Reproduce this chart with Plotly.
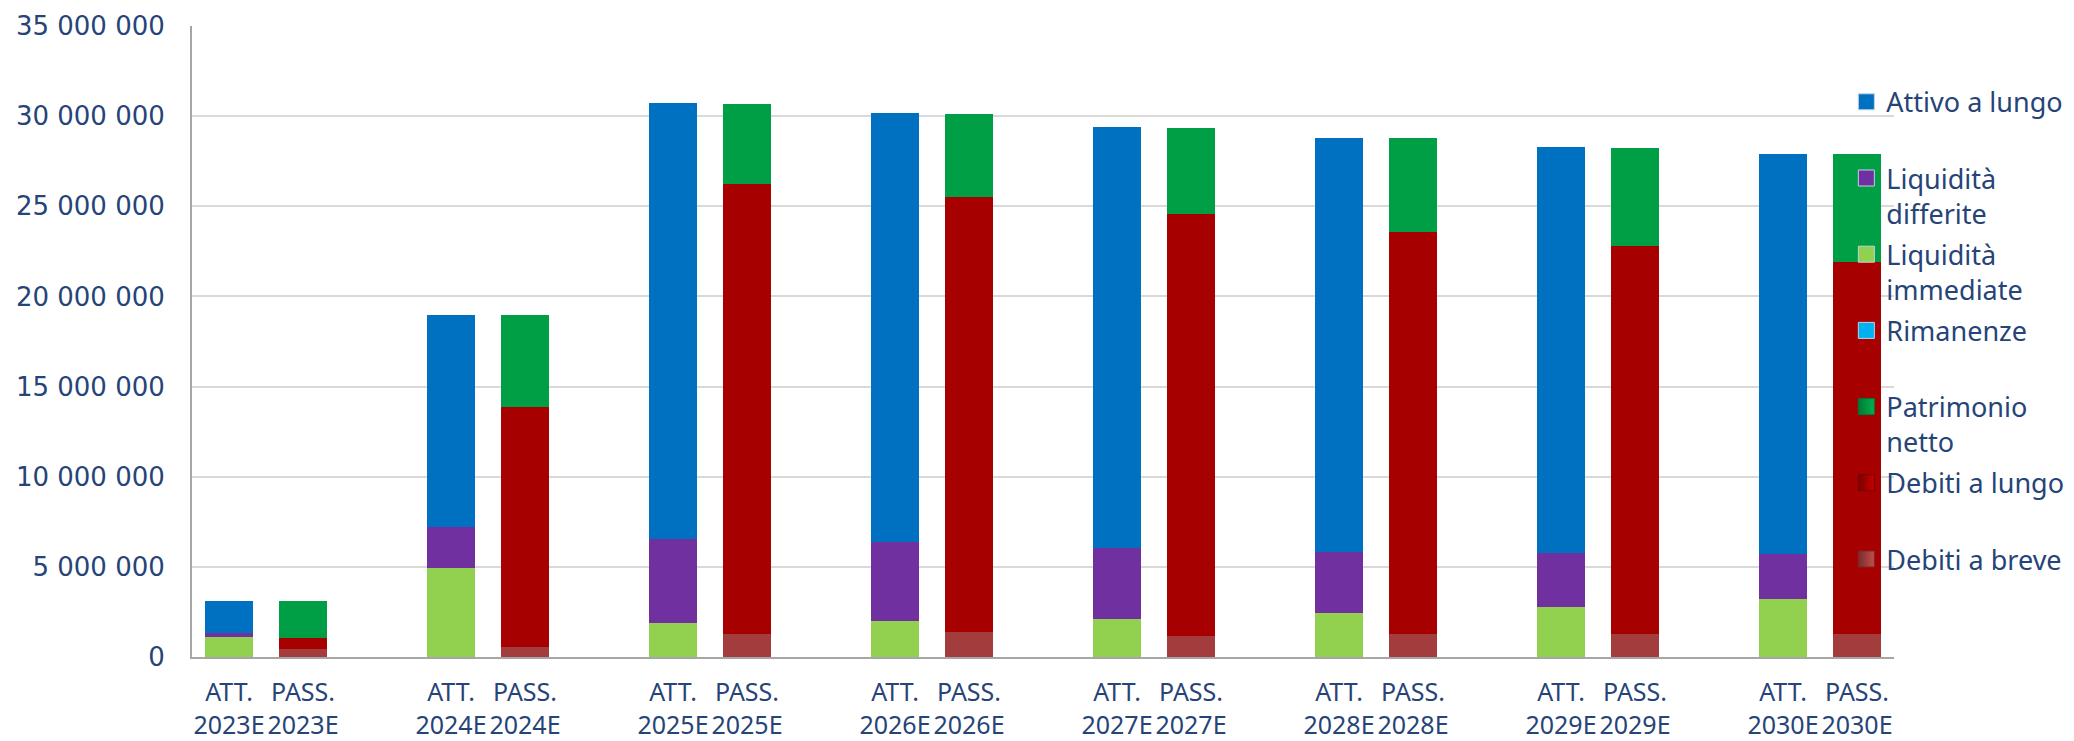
import plotly.graph_objects as go

# --- DATA ---
YEARS = ["2023E", "2024E", "2025E", "2026E", "2027E", "2028E", "2029E", "2030E"]

# attivo
liquidita_immediate = [1090000, 4960000, 1900000, 2000000, 2120000, 2420000, 2750000, 3210000]
liquidita_differite = [260000, 2260000, 4660000, 4400000, 3940000, 3430000, 3000000, 2500000]
rimanenze = [0, 0, 0, 0, 0, 0, 0, 0]
attivo_lungo = [1770000, 11750000, 24150000, 23750000, 23330000, 22960000, 22540000, 22190000]

# passivo
debiti_breve = [470000, 530000, 1250000, 1380000, 1190000, 1250000, 1250000, 1290000]
debiti_lungo = [570000, 13350000, 24960000, 24120000, 23360000, 22350000, 21540000, 20610000]
patrimonio_netto = [2080000, 5090000, 4480000, 4600000, 4800000, 5210000, 5460000, 6000000]

TEXT_COLOR = "#264478"

# each year takes three slots: ATT., PASS., empty gap
x_att = [3 * i for i in range(len(YEARS))]
x_pass = [3 * i + 1 for i in range(len(YEARS))]

tickvals = []
ticktext = []
for i, y in enumerate(YEARS):
    tickvals += [x_att[i], x_pass[i]]
    ticktext += [f"ATT.<br>{y}", f"PASS.<br>{y}"]

# (legend name, x, values, bar color, legend colors (dark, light), legend rank)
# first added sits at the bottom of the stack
series = [
    ("Liquidità<br>immediate", x_att, liquidita_immediate, "#92d050", ("#92d050", None), 3),
    ("Liquidità<br>differite", x_att, liquidita_differite, "#7030a0", ("#7030a0", None), 2),
    ("Rimanenze<br> ", x_att, rimanenze, "#00b0f0", ("#00b0f0", None), 4),
    ("Attivo a lungo<br> ", x_att, attivo_lungo, "#0070c0", ("#0070c0", None), 1),
    ("Debiti a breve<br> ", x_pass, debiti_breve, "#a33c3c", ("#7a2a2a", "#c0504d"), 7),
    ("Debiti a lungo<br> ", x_pass, debiti_lungo, "#a60000", ("#7a0000", "#c80000"), 6),
    ("Patrimonio<br>netto", x_pass, patrimonio_netto, "#009e45", ("#007a33", "#00b050"), 5),
]

fig = go.Figure()
for name, xs, vals, color, (c1, c2), rank in series:
    fig.add_trace(go.Bar(
        x=xs, y=vals, name=name,
        marker=dict(color=color, line=dict(width=0)),
        showlegend=False, legendgroup=name,
    ))
    # legend-only square so the symbol matches the reference size
    marker = dict(symbol="square", size=19, color=c1,
                  line=dict(width=1, color="#bfd3e6" if c2 is None else c1))
    if c2 is not None:
        marker["gradient"] = dict(type="horizontal", color=c2)
    fig.add_trace(go.Scatter(
        x=[None], y=[None], mode="markers", name=name,
        marker=marker, legendrank=rank, legendgroup=name,
    ))

fig.update_layout(
    width=2074, height=741,
    barmode="stack",
    bargap=0.34,
    separators=". ",
    plot_bgcolor="white",
    paper_bgcolor="white",
    font=dict(family="Noto Sans", color=TEXT_COLOR, size=24),
    margin=dict(l=184, r=188, t=18, b=92, autoexpand=False),
    legend=dict(
        x=0.972, xanchor="left", y=0.918, yanchor="top",
        traceorder="grouped", tracegroupgap=3, valign="top",
        font=dict(family="Noto Sans", size=27, color=TEXT_COLOR),
        bgcolor="rgba(0,0,0,0)", itemwidth=30,
    ),
)

fig.update_yaxes(
    range=[0, 35000000], dtick=5000000, tickformat=",d",
    showgrid=True, gridcolor="#d9d9d9", gridwidth=2,
    showline=True, linecolor="#a6a6a6", linewidth=2,
    zeroline=False, ticks="", ticklabelstandoff=20,
    tickfont=dict(family="DejaVu Sans", size=26, color=TEXT_COLOR),
)
fig.update_xaxes(
    range=[-0.5, 3 * len(YEARS) - 1.5],
    tickmode="array", tickvals=tickvals, ticktext=ticktext,
    showgrid=False, showline=True, linecolor="#a6a6a6", linewidth=2,
    ticks="", ticklabelstandoff=12,
    tickfont=dict(family="Noto Sans", size=25, color=TEXT_COLOR),
)

fig.write_html("out.html")
